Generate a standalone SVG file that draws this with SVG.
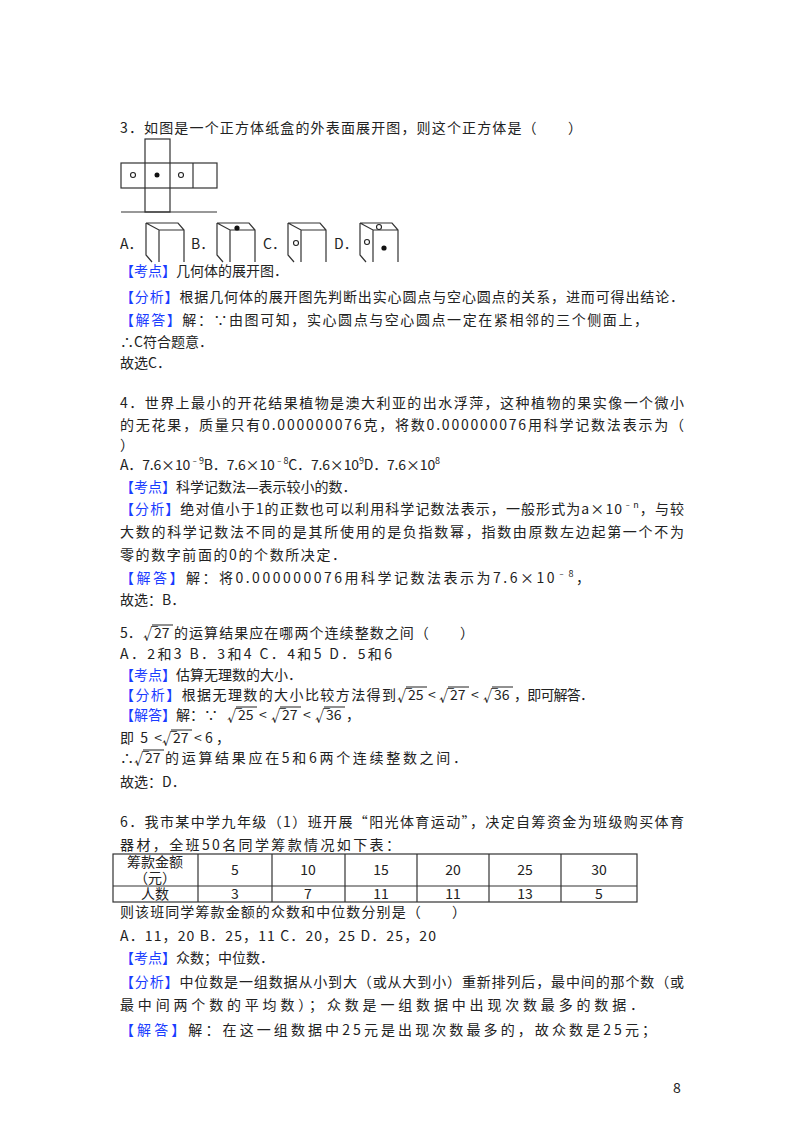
<svg xmlns="http://www.w3.org/2000/svg" width="800" height="1132" viewBox="0 0 800 1132">
<style>
text{font-family:"Noto Sans CJK SC","Liberation Serif",sans-serif;font-size:14px;fill:#222}
.b{fill:#1a3cff}
.s{font-size:9px}
.ln{stroke:#333;stroke-width:1.2;fill:none}
.ov{stroke:#222;stroke-width:1}
.o{fill:#fff;stroke:#222;stroke-width:1.1}
.f{fill:#111}
.r{font-size:15px}
</style>
<rect width="800" height="1132" fill="#fff"/>
<text x="120" y="133" textLength="462" lengthAdjust="spacing">3．如图是一个正方体纸盒的外表面展开图，则这个正方体是（　　）</text>
<g id="net" class="ln">
<rect x="145" y="139" width="25" height="73"/>
<rect x="121" y="163" width="96" height="25"/>
<line x1="193" y1="163" x2="193" y2="188"/>
<line x1="121" y1="212" x2="217" y2="212"/>
<circle class="o" cx="133" cy="175" r="2.5"/>
<circle class="f" cx="157" cy="175" r="2.5" stroke="none"/>
<circle class="o" cx="181" cy="175" r="2.5"/>
</g>
<defs><g id="cube" class="ln"><path d="M146 223H178L184 230V262M146 223L159 230H184M159 230V262M146 223V255L152 262"/></g></defs>
<g id="optA"><text x="120" y="249">A．</text><use href="#cube"/></g>
<g id="optB"><text x="191" y="249">B．</text><use href="#cube" x="71"/><circle class="f" cx="237" cy="228" r="2.6"/></g>
<g id="optC"><text x="263" y="249">C．</text><use href="#cube" x="142"/><circle class="o" cx="296" cy="243" r="2.5"/></g>
<g id="optD"><text x="334" y="249">D．</text><use href="#cube" x="214"/><circle class="o" cx="379" cy="227" r="2.5"/><circle class="o" cx="367" cy="242" r="2.5"/><circle class="f" cx="384" cy="248" r="2.6"/></g>
<text x="120" y="276"><tspan class="b">【考点】</tspan>几何体的展开图．</text>
<text x="120" y="302" textLength="564" lengthAdjust="spacing"><tspan class="b">【分析】</tspan>根据几何体的展开图先判断出实心圆点与空心圆点的关系，进而可得出结论．</text>
<text x="120" y="325" textLength="528" lengthAdjust="spacing"><tspan class="b">【解答】</tspan>解：∵由图可知，实心圆点与空心圆点一定在紧相邻的三个侧面上，</text>
<text x="120" y="347">∴C符合题意．</text>
<text x="120" y="368">故选C．</text>
<text x="120" y="408" textLength="564" lengthAdjust="spacing">4．世界上最小的开花结果植物是澳大利亚的出水浮萍，这种植物的果实像一个微小</text>
<text x="120" y="430" textLength="564" lengthAdjust="spacing">的无花果，质量只有0.000000076克，将数0.000000076用科学记数法表示为（</text>
<text x="120" y="450">）</text>
<text x="120" y="470" textLength="320" lengthAdjust="spacing">A．7.6×10<tspan class="s" dy="-6">﹣9</tspan><tspan dy="6">B．7.6×10</tspan><tspan class="s" dy="-6">﹣8</tspan><tspan dy="6">C．7.6×10</tspan><tspan class="s" dy="-6">9</tspan><tspan dy="6">D．7.6×10</tspan><tspan class="s" dy="-6">8</tspan></text>
<text x="120" y="492"><tspan class="b">【考点】</tspan>科学记数法—表示较小的数．</text>
<text x="120" y="514" textLength="564" lengthAdjust="spacing"><tspan class="b">【分析】</tspan>绝对值小于1的正数也可以利用科学记数法表示，一般形式为a×10<tspan class="s" dy="-6">﹣n</tspan><tspan dy="6">，与较</tspan></text>
<text x="120" y="537" textLength="564" lengthAdjust="spacing">大数的科学记数法不同的是其所使用的是负指数幂，指数由原数左边起第一个不为</text>
<text x="120" y="560" textLength="226" lengthAdjust="spacing">零的数字前面的0的个数所决定．</text>
<text x="120" y="583" textLength="470" lengthAdjust="spacing"><tspan class="b">【解答】</tspan>解：将0.000000076用科学记数法表示为7.6×10<tspan class="s" dy="-6">﹣8</tspan><tspan dy="6">，</tspan></text>
<text x="120" y="605">故选：B．</text>
<g id="q5">
<text x="120" y="638">5．</text><text x="143" y="639" class="r">√</text><line class="ov" x1="152" y1="625" x2="173" y2="625"/><text x="154" y="638">27</text>
<text x="174" y="638" textLength="300" lengthAdjust="spacing">的运算结果应在哪两个连续整数之间（　　）</text>
<text x="120" y="659" textLength="272" lengthAdjust="spacing">A．2和3 B．3和4 C．4和5 D．5和6</text>
<text x="120" y="680"><tspan class="b">【考点】</tspan>估算无理数的大小．</text>
<text x="120" y="700" textLength="276" lengthAdjust="spacing"><tspan class="b">【分析】</tspan>根据无理数的大小比较方法得到</text>
<text x="397" y="701" class="r">√</text><line class="ov" x1="406" y1="687" x2="427" y2="687"/><text x="408" y="700">25</text><text x="428" y="700">&lt;</text>
<text x="439" y="701" class="r">√</text><line class="ov" x1="448" y1="687" x2="469" y2="687"/><text x="450" y="700">27</text><text x="471" y="700">&lt;</text>
<text x="483" y="701" class="r">√</text><line class="ov" x1="492" y1="687" x2="513" y2="687"/><text x="494" y="700">36</text>
<text x="514" y="700" textLength="80" lengthAdjust="spacing">，即可解答．</text>
<text x="120" y="720"><tspan class="b">【解答】</tspan>解：∵</text>
<text x="227" y="721" class="r">√</text><line class="ov" x1="236" y1="707" x2="257" y2="707"/><text x="238" y="720">25</text><text x="259" y="720">&lt;</text>
<text x="271" y="721" class="r">√</text><line class="ov" x1="280" y1="707" x2="301" y2="707"/><text x="282" y="720">27</text><text x="303" y="720">&lt;</text>
<text x="315" y="721" class="r">√</text><line class="ov" x1="324" y1="707" x2="345" y2="707"/><text x="326" y="720">36</text><text x="346" y="720">，</text>
<text x="120" y="743" textLength="42" lengthAdjust="spacing">即5&lt;</text>
<text x="162" y="744" class="r">√</text><line class="ov" x1="171" y1="730" x2="192" y2="730"/><text x="173" y="743">27</text><text x="194" y="743" textLength="36" lengthAdjust="spacing">&lt;6，</text>
<text x="120" y="763">∴</text>
<text x="134" y="764" class="r">√</text><line class="ov" x1="143" y1="750" x2="164" y2="750"/><text x="145" y="763">27</text>
<text x="165" y="763" textLength="302" lengthAdjust="spacing">的运算结果应在5和6两个连续整数之间．</text>
<text x="120" y="787">故选：D．</text>
</g>
<text x="120" y="827" textLength="564" lengthAdjust="spacing">6．我市某中学九年级（1）班开展“阳光体育运动”，决定自筹资金为班级购买体育</text>
<text x="120" y="850" textLength="280" lengthAdjust="spacing">器材，全班50名同学筹款情况如下表：</text>
<g id="table" stroke="#333" stroke-width="1.2" fill="none">
<rect x="113" y="854" width="524" height="48"/>
<line x1="113" y1="886" x2="637" y2="886"/>
<line x1="198" y1="854" x2="198" y2="902"/><line x1="272" y1="854" x2="272" y2="902"/><line x1="345" y1="854" x2="345" y2="902"/><line x1="417" y1="854" x2="417" y2="902"/><line x1="489" y1="854" x2="489" y2="902"/><line x1="561" y1="854" x2="561" y2="902"/>
</g>
<g id="cells" text-anchor="middle">
<text x="155" y="867" font-size="12">筹款金额</text><text x="155" y="883" font-size="12">（元）</text>
<text x="235" y="875">5</text><text x="308" y="875">10</text><text x="381" y="875">15</text><text x="453" y="875">20</text><text x="525" y="875">25</text><text x="599" y="875">30</text>
<text x="155" y="899" font-size="13">人数</text>
<text x="235" y="899" font-size="13">3</text><text x="308" y="899" font-size="13">7</text><text x="381" y="899" font-size="13">11</text><text x="453" y="899" font-size="13">11</text><text x="525" y="899" font-size="13">13</text><text x="599" y="899" font-size="13">5</text>
</g>
<text x="120" y="917" textLength="346" lengthAdjust="spacing">则该班同学筹款金额的众数和中位数分别是（　　）</text>
<text x="120" y="941" textLength="316" lengthAdjust="spacing">A．11，20 B．25，11 C．20，25 D．25，20</text>
<text x="120" y="963"><tspan class="b">【考点】</tspan>众数；中位数．</text>
<text x="120" y="987" textLength="564" lengthAdjust="spacing"><tspan class="b">【分析】</tspan>中位数是一组数据从小到大（或从大到小）重新排列后，最中间的那个数（或</text>
<text x="120" y="1010" textLength="524" lengthAdjust="spacing">最中间两个数的平均数）；众数是一组数据中出现次数最多的数据．</text>
<text x="120" y="1035" textLength="536" lengthAdjust="spacing"><tspan class="b">【解答】</tspan>解：在这一组数据中25元是出现次数最多的，故众数是25元；</text>
<text x="673" y="1093" font-size="12">8</text>
</svg>
